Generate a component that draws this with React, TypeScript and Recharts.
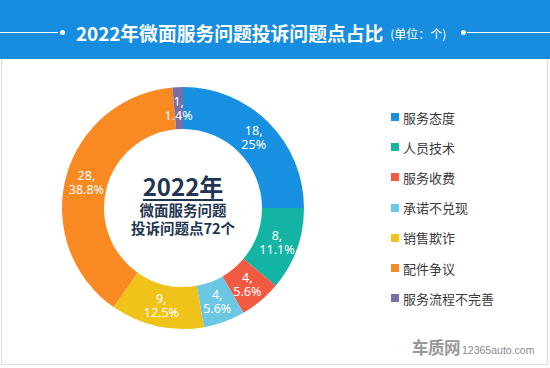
import React from "react";
import { PieChart, Pie, Cell, Legend } from "recharts";

const categories = ["服务态度", "人员技术", "服务收费", "承诺不兑现", "销售欺诈", "配件争议", "服务流程不完善"];
const counts = [18, 8, 4, 4, 9, 28, 1];
const percentLabels = ["25%", "11.1%", "5.6%", "5.6%", "12.5%", "38.8%", "1.4%"];
const colors = ["#1890e2", "#14b4a4", "#f25a42", "#6cc7e2", "#f0c31a", "#f98a22", "#7a6ea4"];

const titleText = "2022年微面服务问题投诉问题点占比";
const unitText = "(单位：个)";
const centerYear = "2022年";
const centerLine1 = "微面服务问题";
const centerLine2 = "投诉问题点72个";

const data = categories.map((name, i) => ({ name, value: counts[i], pct: percentLabels[i] }));

const FONT = '"Noto Sans CJK SC", "Noto Sans", sans-serif';
const LABEL_FONT = '"Noto Sans", "DejaVu Sans", sans-serif';
const RAD = Math.PI / 180;

const renderLabel = (props: any) => {
  const { cx, cy, midAngle, innerRadius, outerRadius, index } = props;
  const r = (innerRadius + outerRadius) / 2;
  const x = cx + r * Math.cos(-midAngle * RAD);
  const y = cy + r * Math.sin(-midAngle * RAD);
  const d = data[index];
  return (
    <g>
      <text x={x} y={y - 2.5} fill="#ffffff" fontSize={12.5} fontFamily={LABEL_FONT} textAnchor="middle">
        {d.value},
      </text>
      <text x={x} y={y + 11.5} fill="#ffffff" fontSize={12.5} fontFamily={LABEL_FONT} textAnchor="middle">
        {d.pct}
      </text>
    </g>
  );
};

const renderLegend = () => {
  return (
    <div style={{ fontFamily: FONT }}>
      {categories.map((name, i) => (
        <div key={name} style={{ display: "flex", alignItems: "center", height: 30.2 }}>
          <span
            style={{
              display: "inline-block",
              width: 8,
              height: 8,
              background: colors[i],
              marginRight: 4,
            }}
          />
          <span style={{ fontSize: 13, color: "#3a3a3a", lineHeight: "15px" }}>{name}</span>
        </div>
      ))}
    </div>
  );
};

export default function App() {
  return (
    <div
      style={{
        position: "fixed",
        left: 0,
        top: 0,
        width: 550,
        height: 368,
        background: "#ffffff",
        overflow: "hidden",
        fontFamily: FONT,
      }}
    >
      <div style={{ position: "absolute", left: 0, top: 0, width: 550, height: 59, background: "#178de0" }} />
      <div style={{ position: "absolute", left: 0, top: 32, width: 58, height: 1, background: "#ffffff" }} />
      <div style={{ position: "absolute", left: 60, top: 30, width: 5, height: 5, borderRadius: 3, background: "#ffffff" }} />
      <div style={{ position: "absolute", left: 461, top: 30, width: 5, height: 5, borderRadius: 3, background: "#ffffff" }} />
      <div style={{ position: "absolute", left: 467, top: 32, width: 83, height: 1, background: "#ffffff" }} />
      <div
        style={{
          position: "absolute",
          left: 76,
          top: 19,
          height: 26,
          whiteSpace: "nowrap",
          color: "#ffffff",
          display: "flex",
          alignItems: "center",
        }}
      >
        <span style={{ fontSize: 18.8, fontWeight: 700 }}>{titleText}</span>
        <span style={{ fontSize: 12, marginLeft: 7, marginTop: 2 }}>{unitText}</span>
      </div>
      <div
        style={{
          position: "absolute",
          left: 1,
          top: 59,
          width: 545,
          height: 305,
          borderLeft: "1px solid #dcdcdc",
          borderRight: "1px solid #dcdcdc",
          borderBottom: "1px solid #dcdcdc",
        }}
      />
      <div style={{ position: "absolute", left: 0, top: 0 }}>
        <PieChart width={550} height={368} margin={{ top: 0, right: 0, bottom: 0, left: 0 }}>
          <Pie
            data={data}
            dataKey="value"
            nameKey="name"
            cx={183}
            cy={208}
            innerRadius={79}
            outerRadius={121}
            startAngle={90}
            endAngle={-270}
            stroke="none"
            label={renderLabel}
            labelLine={false}
            isAnimationActive={false}
          >
            {data.map((d, i) => (
              <Cell key={d.name} fill={colors[i]} />
            ))}
          </Pie>
          <Legend
            layout="vertical"
            content={renderLegend}
            wrapperStyle={{ position: "absolute", left: 391, top: 102, width: 150 }}
          />
        </PieChart>
      </div>
      <div
        style={{
          position: "absolute",
          left: 103,
          top: 173,
          width: 160,
          textAlign: "center",
          color: "#1f3552",
          fontWeight: 700,
        }}
      >
        <div style={{ fontSize: 24, lineHeight: "26px" }}>{centerYear}</div>
        <div style={{ margin: "0 auto", width: 80, height: 1.5, background: "#1f3552" }} />
        <div style={{ fontSize: 14.5, lineHeight: "18px" }}>{centerLine1}</div>
        <div style={{ fontSize: 14.5, lineHeight: "18px" }}>{centerLine2}</div>
      </div>
      <div
        style={{
          position: "absolute",
          left: 412,
          top: 335,
          whiteSpace: "nowrap",
          color: "#999999",
          display: "flex",
          alignItems: "baseline",
        }}
      >
        <span style={{ fontSize: 16.5, fontWeight: 700, letterSpacing: -0.5 }}>车质网</span>
        <span style={{ fontSize: 10.5, marginLeft: 2, color: "#8a8a8a", fontFamily: "Arial, 'Liberation Sans', sans-serif" }}>12365auto.com</span>
      </div>
    </div>
  );
}
